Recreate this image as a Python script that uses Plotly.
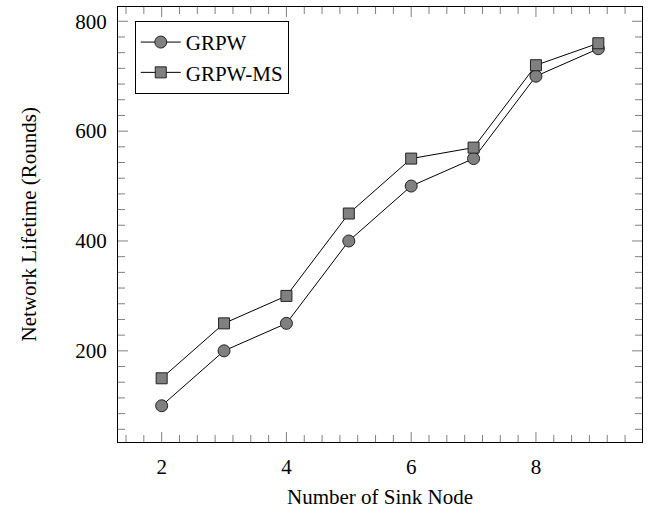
import numpy as np
import plotly.graph_objects as go

sink_nodes = [2, 3, 4, 5, 6, 7, 8, 9]
grpw = [100, 200, 250, 400, 500, 550, 700, 750]
grpw_ms = [150, 250, 300, 450, 550, 570, 720, 760]
x_major = [2, 4, 6, 8]
y_major = [200, 400, 600, 800]
x_title = "Number of Sink Node"
y_title = "Network Lifetime (Rounds)"

FONT = "Liberation Serif"
FS = 21
X_RANGE = [1.3, 9.7]
Y_RANGE = [34, 826]
W, H = 649, 510
ML, MR, MT, MB = 118, 7, 7, 68
PW, PH = W - ML - MR, H - MT - MB

# minor tick positions (7 subdivisions per major interval)
x_minor = [v for v in np.arange(0, 12, 2 / 7) if X_RANGE[0] < v < X_RANGE[1]
           and min(abs(v - m) for m in x_major) > 1e-6]
y_minor = [v for v in np.arange(0, 1000, 200 / 7) if Y_RANGE[0] < v < Y_RANGE[1]
           and min(abs(v - m) for m in y_major) > 1e-6]

fig = go.Figure()
fig.add_trace(go.Scatter(
    x=sink_nodes, y=grpw, name="GRPW", mode="lines+markers",
    line=dict(color="black", width=1),
    marker=dict(symbol="circle", size=12, color="#808080",
                line=dict(color="#222222", width=1)),
))
fig.add_trace(go.Scatter(
    x=sink_nodes, y=grpw_ms, name="GRPW-MS", mode="lines+markers",
    line=dict(color="black", width=1),
    marker=dict(symbol="square", size=11, color="#808080",
                line=dict(color="#222222", width=1)),
))

axis_common = dict(
    showline=True, linecolor="black", linewidth=1.3, mirror=True,
    ticks="", showgrid=False, zeroline=False, automargin=False,
    tickfont=dict(family=FONT, size=FS, color="black"),
)

fig.update_xaxes(range=X_RANGE, tickmode="array", tickvals=x_major, ticklabelstandoff=6, **axis_common)
fig.update_yaxes(range=Y_RANGE, tickmode="array", tickvals=y_major, ticklabelstandoff=6, **axis_common)

TICK_COLOR = "#808080"
shapes = []
for vals, length in ((x_major, 10), (x_minor, 7)):
    f = length / PH
    for v in vals:
        for y0, y1 in ((0, f), (1 - f, 1)):
            shapes.append(dict(type="line", xref="x", yref="paper", x0=v, x1=v,
                               y0=y0, y1=y1, line=dict(color=TICK_COLOR, width=1),
                               layer="above"))
for vals, length in ((y_major, 10), (y_minor, 7)):
    f = length / PW
    for v in vals:
        for x0, x1 in ((0, f), (1 - f, 1)):
            shapes.append(dict(type="line", xref="paper", yref="y", x0=x0, x1=x1,
                               y0=v, y1=v, line=dict(color=TICK_COLOR, width=1),
                               layer="above"))
fig.update_layout(shapes=shapes)

fig.add_annotation(text=x_title, xref="paper", yref="paper", x=0.5, y=0,
                   yshift=-55, showarrow=False, xanchor="center", yanchor="middle",
                   font=dict(family=FONT, size=FS, color="black"))
fig.add_annotation(text=y_title, xref="paper", yref="paper", x=0, y=0.5,
                   xshift=-90, showarrow=False, textangle=-90, xanchor="center", yanchor="middle",
                   font=dict(family=FONT, size=FS, color="black"))

fig.update_layout(
    width=W, height=H,
    margin=dict(l=ML, r=MR, t=MT, b=MB),
    plot_bgcolor="white", paper_bgcolor="white",
    font=dict(family=FONT, size=FS, color="black"),
    legend=dict(
        x=0.032, y=0.968, xanchor="left", yanchor="top",
        bordercolor="black", borderwidth=1, bgcolor="white",
        font=dict(family=FONT, size=FS, color="black"),
        tracegroupgap=0, itemwidth=40,
    ),
    showlegend=True,
)

fig.write_html("out.html", config={"displayModeBar": False},
               post_script="document.body.style.margin='0';")
